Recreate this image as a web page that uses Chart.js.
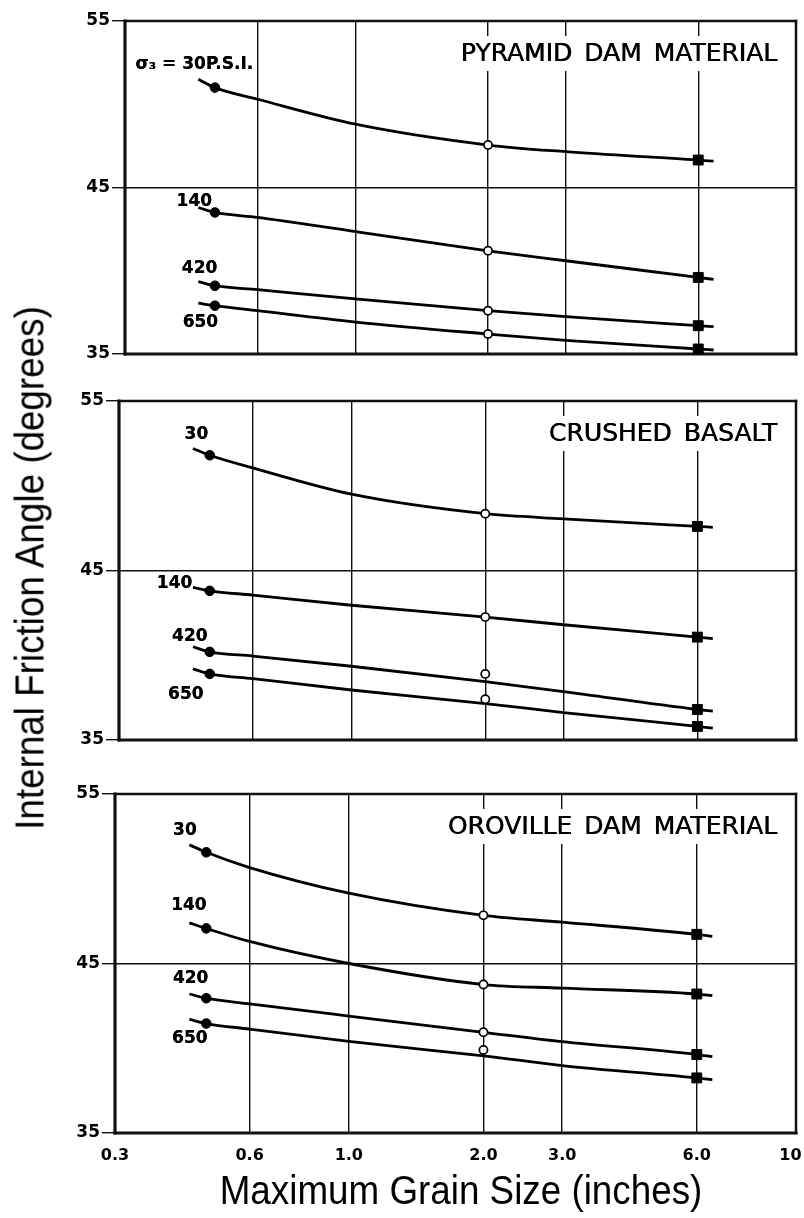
<!DOCTYPE html>
<html>
<head>
<meta charset="utf-8">
<script src="https://cdn.jsdelivr.net/npm/chart.js@4.4.1/dist/chart.umd.min.js"></script>
<style>
  html, body { margin: 0; padding: 0; background: #fff; }
  body { width: 804px; height: 1218px; position: relative; overflow: hidden; font-family: "Liberation Sans", Arial, sans-serif; }
  .panel { position: absolute; left: 0; width: 804px; }
  .panel canvas { display: block; }
  #ytitle { position: absolute; left: 30px; top: 568px; white-space: nowrap; font-size: 40px; color: #000;
            transform: translate(-50%, -50%) rotate(-90deg) scaleX(0.92); }
  #xtitle { position: absolute; left: 461px; top: 1190px; white-space: nowrap; font-size: 40px; color: #000;
            transform: translate(-50%, -50%) scaleX(0.92); }
</style>
</head>
<body>
<div class="panel" style="top:0px"><canvas id="pyramid" width="804" height="380"></canvas></div>
<div class="panel" style="top:380px"><canvas id="basalt" width="804" height="380"></canvas></div>
<div class="panel" style="top:760px"><canvas id="oroville" width="804" height="420"></canvas></div>
<div id="ytitle">Internal Friction Angle (degrees)</div>
<div id="xtitle">Maximum Grain Size (inches)</div>

<script>
// Axis ticks
const xTickValues = [0.3, 0.6, 1.0, 2.0, 3.0, 6.0, 10];
const yTickValues = [35, 45, 55];

// Confining pressures (psi) of the four curves, top to bottom
const pressures = ['30', '140', '420', '650'];

// Grain sizes (in.) of the tested samples
const sampleSizes = [0.48, 2.0, 6.0];

// Grain sizes (in.) at which the fitted curves are traced
const curveSizes = [0.44, 0.48, 0.6, 1.0, 2.0, 3.0, 6.0, 6.5];

// Pyramid Dam material: measured friction angles, one value per pressure
const pyramidFine = [51.0, 43.5, 39.1, 37.9];
const pyramid2in  = [47.55, 41.2, 37.6, 36.2];
const pyramid6in  = [46.65, 39.6, 36.7, 35.3];
// Pyramid Dam material: fitted curves along curveSizes
const pyramidCurve30  = [51.5, 51.0, 50.3, 48.8, 47.55, 47.15, 46.65, 46.58];
const pyramidCurve140 = [43.8, 43.5, 43.2, 42.35, 41.2, 40.6, 39.6, 39.48];
const pyramidCurve420 = [39.35, 39.1, 38.86, 38.31, 37.6, 37.24, 36.7, 36.64];
const pyramidCurve650 = [38.05, 37.9, 37.6, 36.92, 36.2, 35.82, 35.3, 35.24];

// Crushed basalt
const basaltFine = [51.8, 43.8, 40.2, 38.9];
const basalt2in  = [48.35, 42.25, 38.9, 37.4];
const basalt6in  = [47.6, 41.07, 36.8, 35.8];
const basaltCurve30  = [52.2, 51.8, 51.05, 49.5, 48.35, 48.05, 47.6, 47.55];
const basaltCurve140 = [44.0, 43.8, 43.55, 42.95, 42.25, 41.8, 41.07, 40.98];
const basaltCurve420 = [40.5, 40.2, 39.95, 39.35, 38.45, 37.85, 36.8, 36.7];
const basaltCurve650 = [39.2, 38.9, 38.62, 37.95, 37.15, 36.62, 35.8, 35.7];

// Oroville Dam material
const orovilleFine = [51.56, 47.07, 42.95, 41.46];
const oroville2in  = [47.84, 43.76, 40.94, 39.9];
const oroville6in  = [46.72, 43.2, 39.63, 38.25];
const orovilleCurve30  = [52.0, 51.56, 50.66, 49.15, 47.84, 47.44, 46.72, 46.6];
const orovilleCurve140 = [47.4, 47.07, 46.3, 45.0, 43.76, 43.55, 43.2, 43.1];
const orovilleCurve420 = [43.2, 42.95, 42.62, 41.9, 40.94, 40.39, 39.63, 39.5];
const orovilleCurve650 = [41.7, 41.46, 41.13, 40.4, 39.55, 38.98, 38.25, 38.15];

const INK = '#111';

// Pen-style lettering: the glyphs are filled twice, a fraction of a pixel apart
function letter(ctx, text, x, y, spread) {
  ctx.fillText(text, x, y);
  ctx.fillText(text, x + spread, y);
}

// Frame, panel title (on a white patch over the grid) and pressure labels
const panelDecor = {
  id: 'panelDecor',
  beforeDatasetsDraw(chart, args, opts) {
    const { ctx, chartArea: a, scales: { x, y } } = chart;
    ctx.save();

    ctx.font = '25px "DejaVu Sans"';
    if ('wordSpacing' in ctx) ctx.wordSpacing = '4px';
    const w = ctx.measureText(opts.title).width;
    const tx = a.right - 19, ty = a.top + 32;
    ctx.fillStyle = '#fff';
    ctx.fillRect(tx - w - 11, ty - 17, w + 20, 35);
    ctx.fillStyle = '#000';
    ctx.textAlign = 'right';
    ctx.textBaseline = 'middle';
    letter(ctx, opts.title, tx, ty + 1, 0.6);
    if ('wordSpacing' in ctx) ctx.wordSpacing = '0px';

    ctx.font = 'bold 17px "DejaVu Sans"';
    ctx.textAlign = 'center';
    opts.labels.forEach((l, i) => {
      letter(ctx, l.text ?? pressures[i], x.getPixelForValue(l.x), y.getPixelForValue(l.y), 0);
    });

    ctx.strokeStyle = INK;
    ctx.lineCap = 'square';
    const edge = (x1, y1, x2, y2, lw) => {
      ctx.lineWidth = lw;
      ctx.beginPath(); ctx.moveTo(x1, y1); ctx.lineTo(x2, y2); ctx.stroke();
    };
    edge(a.left, a.top, a.right, a.top, 2.5);
    edge(a.right, a.top, a.right, a.bottom, 2.5);
    edge(a.left, a.bottom, a.right, a.bottom, 3.2);
    edge(a.left, a.top, a.left, a.bottom, 3.2);
    ctx.restore();
  }
};

// "10" sits just inside the right frame, the rest are centred with one decimal
function xLabel(v) {
  return v >= 10 ? '10\u2007' : Number(v).toFixed(1);
}

function buildPanel(id, cfg) {
  const datasets = cfg.curves.map(vals => ({
    type: 'line',
    data: curveSizes.map((x, i) => ({ x, y: vals[i] })),
    borderColor: '#000',
    borderWidth: 2.8,
    pointRadius: 0,
    cubicInterpolationMode: 'monotone',
    fill: false,
    order: 2
  }));
  datasets.push({
    type: 'scatter',
    data: cfg.fine.map(y => ({ x: sampleSizes[0], y })),
    pointStyle: 'circle', pointRadius: 4.8, pointBorderWidth: 1,
    pointBackgroundColor: '#000', pointBorderColor: '#000', order: 1
  });
  datasets.push({
    type: 'scatter',
    data: cfg.mid.map(y => ({ x: sampleSizes[1], y })),
    pointStyle: 'circle', pointRadius: 4.1, pointBorderWidth: 1.7,
    pointBackgroundColor: '#fff', pointBorderColor: '#000', order: 1
  });
  datasets.push({
    type: 'scatter',
    data: cfg.coarse.map(y => ({ x: sampleSizes[2], y })),
    pointStyle: 'rect', pointRadius: 7, pointBorderWidth: 1,
    pointBackgroundColor: '#000', pointBorderColor: '#000', order: 1
  });

  return new Chart(document.getElementById(id), {
    data: { datasets },
    options: {
      responsive: false,
      animation: false,
      devicePixelRatio: 1,
      events: [],
      layout: { padding: { top: cfg.top, right: 804 - cfg.right, left: 0, bottom: 0 } },
      plugins: {
        legend: { display: false },
        tooltip: { enabled: false },
        panelDecor: { title: cfg.title, labels: cfg.labels }
      },
      scales: {
        x: {
          type: 'logarithmic',
          min: 0.3, max: 10,
          afterBuildTicks: s => { s.ticks = xTickValues.map(v => ({ value: v })); },
          ticks: {
            display: cfg.showX,
            autoSkip: false, maxRotation: 0,
            callback: v => xLabel(v),
            font: { family: 'DejaVu Sans', size: 16, weight: 'bold' },
            color: '#000',
            padding: 13
          },
          grid: { color: INK, lineWidth: 1.4, drawTicks: false },
          border: { display: false },
          afterFit: s => { s.height = cfg.xAxisHeight; s.paddingLeft = 0; s.paddingRight = 0; }
        },
        y: {
          type: 'linear',
          min: 35, max: 55,
          afterBuildTicks: s => { s.ticks = yTickValues.map(v => ({ value: v })); },
          ticks: { font: { family: 'DejaVu Sans', size: 17, weight: 'bold' }, color: '#000', padding: 2 },
          grid: { color: INK, lineWidth: 1.4, tickLength: 13 },
          border: { display: false },
          afterFit: s => { s.width = cfg.left; s.paddingTop = 0; s.paddingBottom = 0; }
        }
      }
    },
    plugins: [panelDecor]
  });
}

buildPanel('pyramid', {
  title: 'PYRAMID DAM MATERIAL',
  top: 21, left: 125, right: 799, xAxisHeight: 26, showX: false,
  fine: pyramidFine, mid: pyramid2in, coarse: pyramid6in,
  curves: [pyramidCurve30, pyramidCurve140, pyramidCurve420, pyramidCurve650],
  labels: [
    { text: '\u03C3\u2083 = 30P.S.I.', x: 0.431, y: 52.36 },
    { x: 0.431, y: 44.15 },
    { x: 0.443, y: 40.14 },
    { x: 0.445, y: 36.9 }
  ]
});

buildPanel('basalt', {
  title: 'CRUSHED BASALT',
  top: 21, left: 119, right: 797, xAxisHeight: 20, showX: false,
  fine: basaltFine, mid: basalt2in, coarse: basalt6in,
  curves: [basaltCurve30, basaltCurve140, basaltCurve420, basaltCurve650],
  labels: [
    { x: 0.448, y: 53.0 },
    { x: 0.400, y: 44.23 },
    { x: 0.433, y: 41.1 },
    { x: 0.424, y: 37.7 }
  ]
});

buildPanel('oroville', {
  title: 'OROVILLE DAM MATERIAL',
  top: 34, left: 115, right: 796, xAxisHeight: 47, showX: true,
  fine: orovilleFine, mid: oroville2in, coarse: oroville6in,
  curves: [orovilleCurve30, orovilleCurve140, orovilleCurve420, orovilleCurve650],
  labels: [
    { x: 0.430, y: 52.82 },
    { x: 0.439, y: 48.41 },
    { x: 0.443, y: 44.09 },
    { x: 0.441, y: 40.56 }
  ]
});
</script>
</body>
</html>
